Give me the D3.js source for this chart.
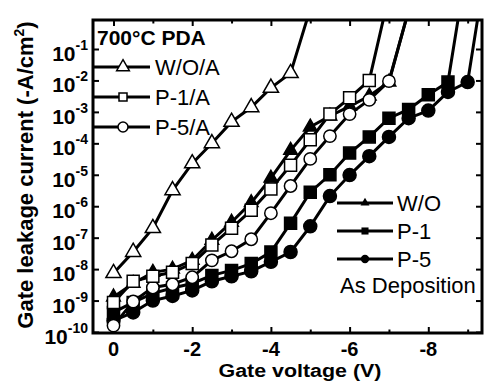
<!DOCTYPE html>
<html>
<head>
<meta charset="utf-8">
<script src="https://cdn.jsdelivr.net/npm/d3@7"></script>
<style>
  body { margin: 0; background: #fff; }
  text { font-family: Arial, "Liberation Sans", Helvetica, sans-serif; fill: #000; }
</style>
</head>
<body>
<svg id="chart" width="487" height="391"></svg>
<script>
// gate voltage steps (V)
const volts = [0, -0.5, -1, -1.5, -2, -2.5, -3, -3.5, -4, -4.5, -5, -5.5, -6, -6.5, -7, -7.5, -8, -8.5, -9, -9.5];

// leakage current (-A/cm2), annealed samples (open markers)
const woA = [7.4e-9, 3.5e-8, 2.0e-7, 3.2e-6, 2.3e-5, 1.0e-4, 4.8e-4, 1.4e-3, 5.8e-3, 1.7e-2, 1.9];
const p1A = [8.7e-10, 4.1e-9, 5.9e-9, 7.9e-9, 1.5e-8, 5.8e-8, 2.0e-7, 7.4e-7, 3.5e-6, 2.0e-5, 1.3e-4, 8.5e-4, 2.8e-3, 1.0e-2, 5.2];
const p5A = [1.6e-10, 9.3e-10, 2.6e-9, 3.3e-9, 5.5e-9, 1.9e-8, 3.7e-8, 8.9e-8, 6.0e-7, 4.4e-6, 3.2e-5, 1.7e-4, 8.5e-4, 2.4e-3, 9.5e-3, 1.7];

// as deposition (filled markers)
const wo = [1.3e-9, 3.5e-9, 7.9e-9, 1.0e-8, 1.9e-8, 8.3e-8, 3.1e-7, 1.3e-6, 7.8e-6, 6.0e-5, 3.3e-4, 7.4e-4, 1.5e-3, 3.2e-3, 8.9e-3, 1.7];
const p1 = [4.2e-10, 8.7e-10, 1.7e-9, 2.5e-9, 3.5e-9, 6.3e-9, 9.1e-9, 1.5e-8, 3.5e-8, 2.9e-7, 2.8e-6, 1.0e-5, 4.9e-5, 1.6e-4, 6.3e-4, 1.2e-3, 3.5e-3, 8.9e-3, 68];
const p5 = [2.3e-10, 4.2e-10, 1.0e-9, 1.4e-9, 2.1e-9, 4.1e-9, 5.9e-9, 8.5e-9, 1.7e-8, 3.5e-8, 2.3e-7, 2.1e-6, 9.8e-6, 3.9e-5, 1.6e-4, 6.3e-4, 1.1e-3, 4.3e-3, 8.9e-3, 79];

const xMajor = [0, -2, -4, -6, -8];
const xMinor = [-1, -3, -5, -7, -9];
const yTicks = [-10, -9, -8, -7, -6, -5, -4, -3, -2, -1];

const frame = {left: 93, right: 482, top: 20, bottom: 333};

const svg = d3.select('#chart');

const x = d3.scaleLinear().domain([0, -8]).range([113.5, 428.3]);
const y = d3.scaleLog().domain([1e-10, 1e-1]).range([332, 49]);

svg.append('defs').append('clipPath').attr('id', 'plotclip')
  .append('rect')
  .attr('x', frame.left).attr('y', frame.top)
  .attr('width', frame.right - frame.left).attr('height', frame.bottom - frame.top);

// ticks (all inward)
function tickAxis(axis, tx, ty, len, vals) {
  const g = svg.append('g')
    .attr('transform', 'translate(' + tx + ',' + ty + ')')
    .call(axis.tickValues(vals).tickSize(-len).tickSizeOuter(0).tickFormat(''));
  g.select('.domain').remove();
  g.selectAll('line').attr('stroke', '#000').attr('stroke-width', 2);
  return g;
}
tickAxis(d3.axisBottom(x), 0, frame.bottom, 6, xMajor);
tickAxis(d3.axisBottom(x), 0, frame.bottom, 3.5, xMinor);
tickAxis(d3.axisTop(x), 0, frame.top, 6, xMajor);
tickAxis(d3.axisTop(x), 0, frame.top, 3.5, xMinor);
tickAxis(d3.axisLeft(y), frame.left, 0, 6, yTicks.map(e => Math.pow(10, e)));
tickAxis(d3.axisRight(y), frame.right, 0, 6, yTicks.map(e => Math.pow(10, e)));

// frame
svg.append('rect')
  .attr('x', frame.left).attr('y', frame.top)
  .attr('width', frame.right - frame.left).attr('height', frame.bottom - frame.top)
  .attr('fill', 'none').attr('stroke', '#000').attr('stroke-width', 3);

// x tick labels
svg.append('g').selectAll('text')
  .data(xMajor).enter().append('text')
  .attr('x', d => x(d)).attr('y', 356)
  .attr('text-anchor', 'middle')
  .style('font-size', '20px').style('font-weight', 'bold')
  .text(d => d === 0 ? '0' : '-' + Math.abs(d));

// y tick labels 10^n
const yl = svg.append('g').selectAll('text')
  .data(yTicks).enter().append('text')
  .attr('x', 88).attr('y', d => y(Math.pow(10, d)) + 12)
  .attr('text-anchor', 'end')
  .style('font-weight', 'bold');
yl.append('tspan').style('font-size', '21px').text('10');
yl.append('tspan').style('font-size', '14px').attr('dy', -11).text(d => String(d));

// axis titles
svg.append('text')
  .attr('x', 300).attr('y', 377)
  .attr('text-anchor', 'middle')
  .attr('textLength', 163).attr('lengthAdjust', 'spacingAndGlyphs')
  .style('font-size', '18px').style('font-weight', 'bold')
  .text('Gate voltage (V)');

const yt = svg.append('text')
  .attr('transform', 'translate(33,175) rotate(-90)')
  .attr('text-anchor', 'middle')
  .style('font-size', '22px').style('font-weight', 'bold');
yt.append('tspan').text('Gate leakage current (-A/cm');
yt.append('tspan').attr('dy', -9).style('font-size', '14px').text('2');
yt.append('tspan').attr('dy', 9).text(')');

// series
const series = [
  {name: 'P-5', vals: p5, sym: d3.symbolCircle, size: 133, fill: '#000'},
  {name: 'P-1', vals: p1, sym: d3.symbolSquare, size: 144, fill: '#000'},
  {name: 'W/O', vals: wo, sym: d3.symbolTriangle, size: 80, fill: '#000'},
  {name: 'P-5/A', vals: p5A, sym: d3.symbolCircle, size: 120, fill: '#fff'},
  {name: 'P-1/A', vals: p1A, sym: d3.symbolSquare, size: 144, fill: '#fff'},
  {name: 'W/O/A', vals: woA, sym: d3.symbolTriangle, size: 100, fill: '#fff'}
];

const line = d3.line().x(d => x(d[0])).y(d => y(d[1]));
const plot = svg.append('g').attr('clip-path', 'url(#plotclip)');

series.forEach(s => {
  const pts = s.vals.map((v, i) => [volts[i], v]);
  const g = plot.append('g');
  g.append('path')
    .attr('d', line(pts))
    .attr('fill', 'none').attr('stroke', '#000').attr('stroke-width', 3);
  g.selectAll('path.m')
    .data(pts).enter().append('path')
    .attr('class', 'm')
    .attr('transform', d => 'translate(' + x(d[0]) + ',' + y(d[1]) + ')')
    .attr('d', d3.symbol().type(s.sym).size(s.size))
    .attr('fill', s.fill).attr('stroke', '#000').attr('stroke-width', 1.5);
});

// title
svg.append('text')
  .attr('x', 97).attr('y', 45)
  .style('font-size', '21px').style('font-weight', 'bold')
  .text('700\u00B0C PDA');

// legends
const legOpen = [
  {name: 'W/O/A', sym: d3.symbolTriangle, size: 70, ly: 67},
  {name: 'P-1/A', sym: d3.symbolSquare, size: 64, ly: 97},
  {name: 'P-5/A', sym: d3.symbolCircle, size: 78, ly: 127}
];
legOpen.forEach(l => {
  svg.append('line').attr('x1', frame.left).attr('x2', 150).attr('y1', l.ly).attr('y2', l.ly)
    .attr('stroke', '#000').attr('stroke-width', 3);
  svg.append('path').attr('transform', 'translate(123,' + l.ly + ')')
    .attr('d', d3.symbol().type(l.sym).size(l.size))
    .attr('fill', '#fff').attr('stroke', '#000').attr('stroke-width', 1.5);
  svg.append('text').attr('x', 155).attr('y', l.ly + 8)
    .style('font-size', '22px').text(l.name);
});

const legFilled = [
  {name: 'W/O', sym: d3.symbolTriangle, size: 35, ly: 203},
  {name: 'P-1', sym: d3.symbolSquare, size: 50, ly: 231},
  {name: 'P-5', sym: d3.symbolCircle, size: 55, ly: 259}
];
legFilled.forEach(l => {
  svg.append('line').attr('x1', 337).attr('x2', 393).attr('y1', l.ly).attr('y2', l.ly)
    .attr('stroke', '#000').attr('stroke-width', 3);
  svg.append('path').attr('transform', 'translate(365,' + l.ly + ')')
    .attr('d', d3.symbol().type(l.sym).size(l.size))
    .attr('fill', '#000');
  svg.append('text').attr('x', 397).attr('y', l.ly + 8)
    .style('font-size', '22px').text(l.name);
});

svg.append('text').attr('x', 340).attr('y', 293)
  .style('font-size', '22px').text('As Deposition');
</script>
</body>
</html>
